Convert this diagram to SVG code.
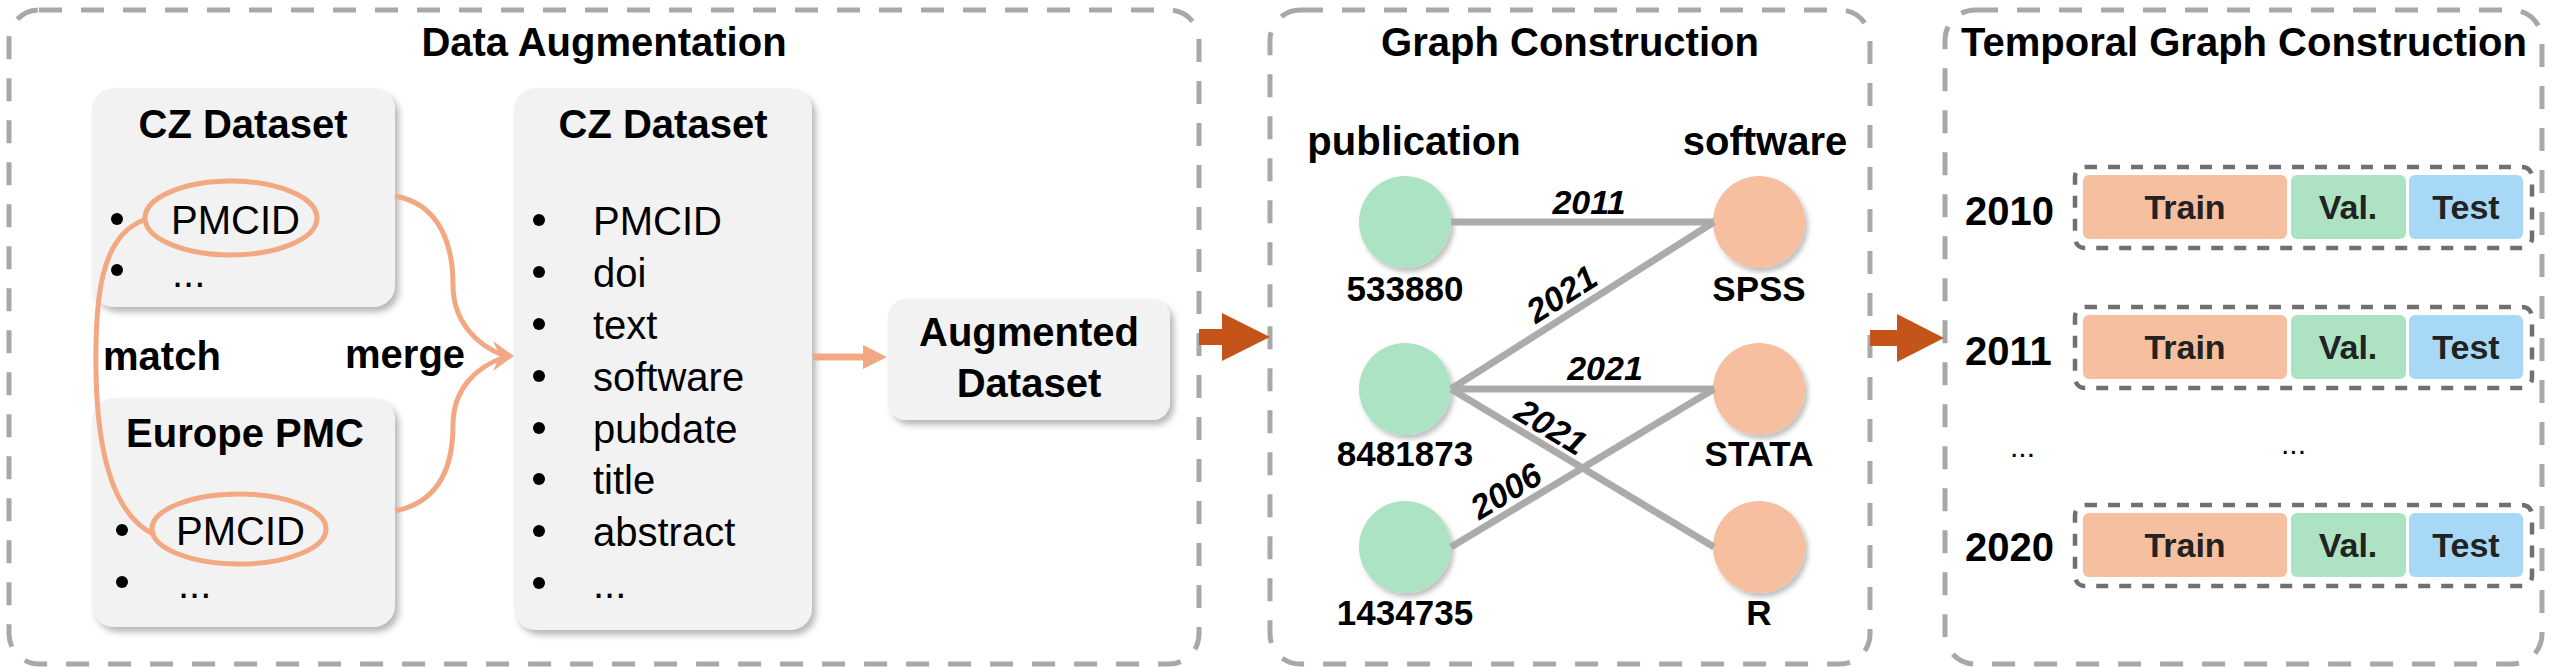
<svg xmlns="http://www.w3.org/2000/svg" width="2558" height="667" viewBox="0 0 2558 667">
<defs>
<style>
text{font-family:"Liberation Sans",Arial,sans-serif;fill:#000}
.b{font-weight:bold}
.panel{fill:none;stroke:#A8A8A8;stroke-width:5;stroke-dasharray:23 19}
.box{fill:#F2F2F2;filter:url(#sh)}
.ttl{font-size:40px;font-weight:bold;text-anchor:middle}
.hd{font-size:40px;font-weight:bold;text-anchor:middle}
.li{font-size:40px}
.bul{fill:#000}
.oc{fill:none;stroke:#F2A983;stroke-width:5}
.edge{stroke:#ABABAB;stroke-width:7;fill:none}
.el{font-size:34px;font-weight:bold;font-style:italic;text-anchor:middle}
.nl{font-size:35px;font-weight:bold;text-anchor:middle}
.pub{fill:#ACE3C2;filter:url(#sh2)}
.sw{fill:#F5BFA0;filter:url(#sh2)}
.row{fill:none;stroke:#707070;stroke-width:4.5;stroke-dasharray:12 11}
.tr{fill:#F5BFA0}
.va{fill:#ADE3C2}
.te{fill:#A7D8F5}
.sp{font-size:34px;font-weight:bold;text-anchor:middle;fill:#222}
.yr{font-size:40px;font-weight:bold}
.big{fill:#C4541A}
</style>
<filter id="sh" x="-10%" y="-10%" width="125%" height="125%">
<feDropShadow dx="4" dy="5" stdDeviation="3" flood-color="#000" flood-opacity="0.28"/>
</filter>
<filter id="sh2" x="-20%" y="-20%" width="150%" height="150%">
<feDropShadow dx="3" dy="4" stdDeviation="2.5" flood-color="#000" flood-opacity="0.25"/>
</filter>
</defs>

<g id="panel-data-augmentation">
<rect class="panel" x="9" y="10" width="1190" height="654" rx="30"/>
<text class="ttl" x="604" y="56">Data Augmentation</text>
</g>
<g id="panel-graph-construction">
<rect class="panel" x="1270" y="10" width="600" height="654" rx="30"/>
<text class="ttl" x="1570" y="56">Graph Construction</text>
</g>
<g id="panel-temporal">
<rect class="panel" x="1945" y="10" width="597" height="654" rx="30"/>
<text class="ttl" x="2244" y="56">Temporal Graph Construction</text>
</g>

<g id="cz-dataset-src">
<rect class="box" x="92" y="88" width="303" height="219" rx="22"/>
<text class="hd" x="243" y="138">CZ Dataset</text>
<circle class="bul" cx="117" cy="219" r="6"/>
<circle class="bul" cx="117" cy="270" r="6"/>
<text class="li" x="171" y="234">PMCID</text>
<text class="li" x="172" y="287">...</text>
<ellipse class="oc" cx="231" cy="218" rx="86" ry="37"/>
</g>

<g id="europe-pmc">
<rect class="box" x="92" y="398" width="303" height="229" rx="22"/>
<text class="hd" x="245" y="447">Europe PMC</text>
<circle class="bul" cx="122" cy="530" r="6"/>
<circle class="bul" cx="122" cy="582" r="6"/>
<text class="li" x="176" y="545">PMCID</text>
<text class="li" x="178" y="598">...</text>
<ellipse class="oc" cx="239" cy="529" rx="87" ry="35"/>
</g>

<g id="cz-dataset-merged">
<rect class="box" x="514" y="88" width="298" height="542" rx="22"/>
<text class="hd" x="663" y="138">CZ Dataset</text>
<g class="bul">
<circle cx="539" cy="220" r="6"/><circle cx="539" cy="272" r="6"/><circle cx="539" cy="324" r="6"/><circle cx="539" cy="376" r="6"/>
<circle cx="539" cy="428" r="6"/><circle cx="539" cy="479" r="6"/><circle cx="539" cy="531" r="6"/><circle cx="539" cy="583" r="6"/>
</g>
<text class="li" x="593" y="235">PMCID</text>
<text class="li" x="593" y="287">doi</text>
<text class="li" x="593" y="339">text</text>
<text class="li" x="593" y="391">software</text>
<text class="li" x="593" y="443">pubdate</text>
<text class="li" x="593" y="494">title</text>
<text class="li" x="593" y="546">abstract</text>
<text class="li" x="593" y="598">...</text>
</g>

<g id="augmented-dataset">
<rect class="box" x="888" y="299" width="282" height="121" rx="18"/>
<text class="hd" x="1029" y="346">Augmented</text>
<text class="hd" x="1029" y="397">Dataset</text>
</g>

<g id="pub-533880"><circle class="pub" cx="1405" cy="222" r="46"/><text class="nl" x="1405" y="301">533880</text></g>
<g id="pub-8481873"><circle class="pub" cx="1405" cy="389" r="46"/><text class="nl" x="1405" y="466">8481873</text></g>
<g id="pub-1434735"><circle class="pub" cx="1405" cy="547" r="46"/><text class="nl" x="1405" y="625">1434735</text></g>
<g id="sw-spss"><circle class="sw" cx="1759" cy="222" r="46"/><text class="nl" x="1759" y="301">SPSS</text></g>
<g id="sw-stata"><circle class="sw" cx="1759" cy="389" r="46"/><text class="nl" x="1759" y="466">STATA</text></g>
<g id="sw-r"><circle class="sw" cx="1759" cy="547" r="46"/><text class="nl" x="1759" y="625">R</text></g>
<text class="b" x="1414" y="155" font-size="40" text-anchor="middle">publication</text>
<text class="b" x="1765" y="155" font-size="40" text-anchor="middle">software</text>

<g id="row-2010">
<text class="yr" x="1965" y="225">2010</text>
<rect class="row" x="2075" y="167" width="457" height="81" rx="10"/>
<rect class="tr" x="2083" y="175" width="204" height="64" rx="6"/>
<rect class="va" x="2291" y="175" width="115" height="64" rx="6"/>
<rect class="te" x="2409" y="175" width="114" height="64" rx="6"/>
<text class="sp" x="2185" y="219">Train</text><text class="sp" x="2348" y="219">Val.</text><text class="sp" x="2466" y="219">Test</text>
</g>
<g id="row-2011">
<text class="yr" x="1965" y="365">2011</text>
<rect class="row" x="2075" y="307" width="457" height="81" rx="10"/>
<rect class="tr" x="2083" y="315" width="204" height="64" rx="6"/>
<rect class="va" x="2291" y="315" width="115" height="64" rx="6"/>
<rect class="te" x="2409" y="315" width="114" height="64" rx="6"/>
<text class="sp" x="2185" y="359">Train</text><text class="sp" x="2348" y="359">Val.</text><text class="sp" x="2466" y="359">Test</text>
</g>
<g id="row-ellipsis">
<text x="2010" y="457" font-size="30">...</text>
<text x="2281" y="454" font-size="30">...</text>
</g>
<g id="row-2020">
<text class="yr" x="1965" y="561">2020</text>
<rect class="row" x="2075" y="505" width="457" height="81" rx="10"/>
<rect class="tr" x="2083" y="513" width="204" height="64" rx="6"/>
<rect class="va" x="2291" y="513" width="115" height="64" rx="6"/>
<rect class="te" x="2409" y="513" width="114" height="64" rx="6"/>
<text class="sp" x="2185" y="557">Train</text><text class="sp" x="2348" y="557">Val.</text><text class="sp" x="2466" y="557">Test</text>
</g>

<g id="connectors">
<path class="oc" d="M144,220 C100,236 95,300 96,370 C97,450 112,515 155,535"/>
<path class="oc" d="M395,196 C440,204 453,245 453,285 C453,320 475,345 505,356"/>
<path class="oc" d="M395,511 C440,502 453,465 453,425 C453,390 475,367 505,357"/>
<polygon fill="#F2A983" points="514,356 493,341 500,356 493,371"/>
<text class="b" x="103" y="370" font-size="40">match</text>
<text class="b" x="345" y="368" font-size="40">merge</text>
<line x1="813" y1="357" x2="866" y2="357" stroke="#F2A983" stroke-width="7"/>
<polygon fill="#F2A983" points="863,345 887,357 863,369"/>
<polygon class="big" points="1199,329 1222,329 1222,313 1270,337 1222,361 1222,345 1199,345"/>
<polygon class="big" points="1870,330 1897,330 1897,314 1944,338 1897,362 1897,346 1870,346"/>
<line class="edge" x1="1451" y1="222" x2="1714" y2="222"/>
<line class="edge" x1="1451" y1="389" x2="1714" y2="222"/>
<line class="edge" x1="1451" y1="389" x2="1714" y2="389"/>
<line class="edge" x1="1451" y1="389" x2="1714" y2="547"/>
<line class="edge" x1="1451" y1="547" x2="1714" y2="389"/>
<text class="el" x="1589" y="214">2011</text>
<text class="el" x="1605" y="380">2021</text>
<text class="el" transform="translate(1568,304) rotate(-32.4)">2021</text>
<text class="el" transform="translate(1545,437) rotate(31)">2021</text>
<text class="el" transform="translate(1512,501) rotate(-31)">2006</text>
</g>
</svg>
